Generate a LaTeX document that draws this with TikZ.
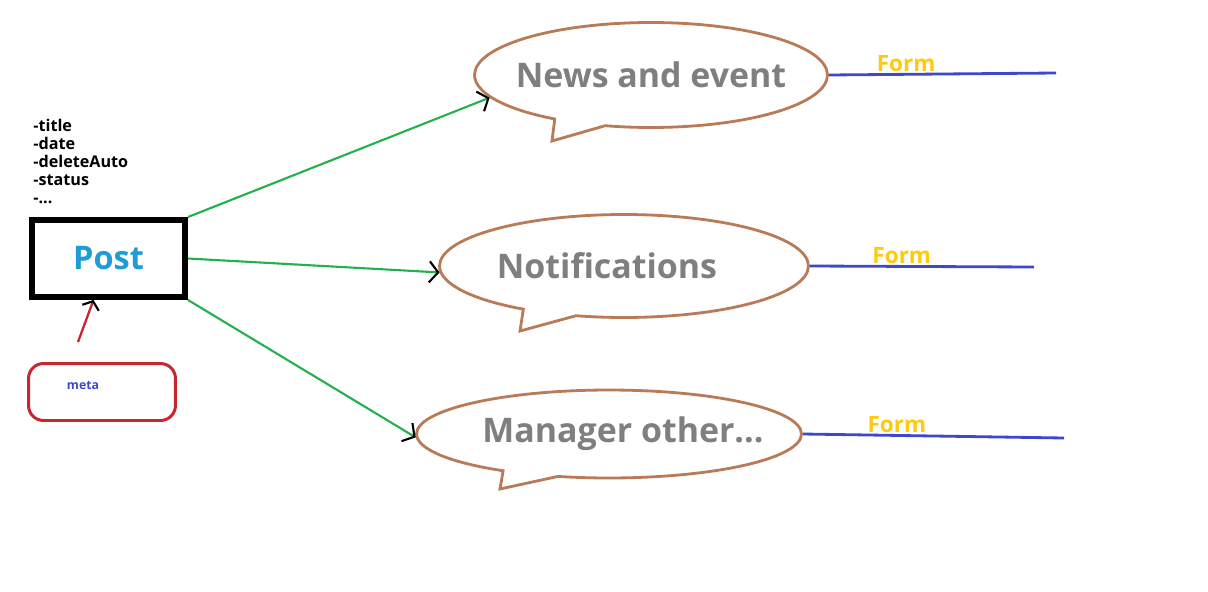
\documentclass[tikz,border=0pt]{standalone}
\usepackage{fontspec}
\setmainfont{Open Sans}
\usetikzlibrary{shapes.callouts,arrows.meta}
\definecolor{paintgreen}{HTML}{22B14C}
\definecolor{paintbrown}{HTML}{B97A57}
\definecolor{paintblue}{HTML}{3F48CC}
\definecolor{paintyellow}{HTML}{FFC90E}
\definecolor{paintred}{HTML}{C8262E}
\definecolor{painttext}{HTML}{7F7F7F}
\definecolor{postblue}{HTML}{1F9BD7}

\begin{document}
\begin{tikzpicture}[
        x=0.02cm, y=-0.02cm,
        bubble/.style={ellipse callout, draw=paintbrown, line width=1.6pt, inner sep=0pt,
          callout pointer arc=18,
          text=painttext, font=\fontsize{19.3}{22}\selectfont\bfseries},
        link/.style={paintgreen, line width=1.2pt,
          -{Straight Barb[black,length=5pt,width=12pt,line width=1.2pt]}},
        formline/.style={paintblue, line width=1.6pt},
        formtext/.style={text=paintyellow, font=\fontsize{12.8}{14}\selectfont\bfseries,
          above, inner sep=0.5pt}
      ]
      \useasboundingbox (0,0) rectangle (1208,592);
      \node (fields) [anchor=north west, align=left, inner sep=0pt,
        font=\fontsize{9.2}{10.2}\selectfont\bfseries] at (33,119)
        {-title\\-date\\-deleteAuto\\-status\\-...};
      \node (post) [draw, line width=3.4pt, minimum width=3.06cm, minimum height=1.54cm,
        text=postblue, font=\fontsize{18.5}{21}\selectfont\bfseries] at (108.5,258.5) {Post};
      \node (meta) [draw=paintred, line width=1.7pt, rounded corners=0.3cm,
        minimum width=2.94cm, minimum height=1.14cm] at (102,392) {};
      \node (metalabel) [text=paintblue, font=\fontsize{7}{8}\selectfont\bfseries]
        at (83,385) {meta};
      \coordinate (metatail) at (78,342);
      \draw [paintred, line width=1.3pt,
        -{Straight Barb[black,length=4pt,width=10pt,line width=1.2pt]}]
        (metatail) -- ([xshift=-0.3cm]post.south);

      \node (news) [bubble, minimum width=7.06cm, minimum height=2.1cm,
        callout absolute pointer={(552,141)}] at (651,75)
        {\makebox[0pt]{News and event}};
      \node (notif) [bubble, minimum width=7.38cm, minimum height=2.06cm,
        callout absolute pointer={(520,331)}] at (624,266)
        {\makebox[0pt]{Notifications}\hspace*{0.68cm}};
      \node (manager) [bubble, minimum width=7.7cm, minimum height=1.76cm,
        callout absolute pointer={(500,489)}] at (609,434)
        {\hspace*{0.56cm}\makebox[0pt]{Manager other...}};

      \draw [link] (post.north east) -- (news.188);
      \draw [link] (post.east) -- (notif.182);
      \draw [link] (post.south east) -- (manager.181);

      \coordinate (newsend) at (1056,73);
      \coordinate (notifend) at (1034,267);
      \coordinate (managerend) at (1064,438);
      \draw [formline] (news.east) -- (newsend) node [formtext, pos=0.34] {Form};
      \draw [formline] (notif.east) -- (notifend) node [formtext, pos=0.41] {Form};
      \draw [formline] (manager.east) -- (managerend) node [formtext, pos=0.36] {Form};
    \end{tikzpicture}
\end{document}
